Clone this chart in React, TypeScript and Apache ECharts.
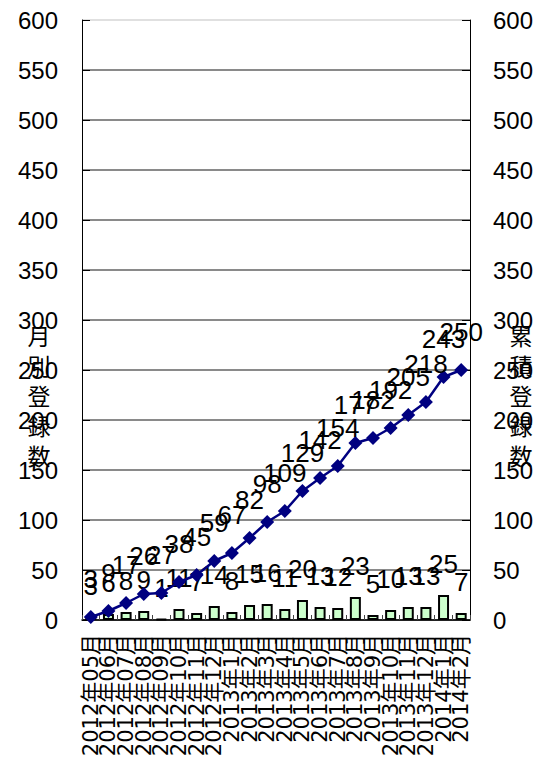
import React, { useEffect, useRef } from "react";
import * as echarts from "echarts";

const categories = [
  "2012年05月", "2012年06月", "2012年07月", "2012年08月", "2012年09月", "2012年10月", "2012年11月", "2012年12月",
  "2013年1月", "2013年2月", "2013年3月", "2013年4月", "2013年5月", "2013年6月", "2013年7月", "2013年8月", "2013年9月",
  "2013年10月", "2013年11月", "2013年12月", "2014年1月", "2014年2月",
];
const monthly = [3, 6, 8, 9, 1, 11, 7, 14, 8, 15, 16, 11, 20, 13, 12, 23, 5, 10, 13, 13, 25, 7];
const cumulative = [3, 9, 17, 26, 27, 38, 45, 59, 67, 82, 98, 109, 129, 142, 154, 177, 182, 192, 205, 218, 243, 250];
const leftTitle = "月別登録数";
const rightTitle = "累積登録数";

export default function App() {
  const ref = useRef<HTMLDivElement>(null);
  useEffect(() => {
    if (!ref.current) return;
    const chart = echarts.init(ref.current, null, { renderer: "svg" });
    const gridColors = Array.from({ length: 13 }, (_, i) => (i === 12 ? "#e0e0e0" : "#8a8a8a"));
    const tickFont = { fontSize: 24, fontFamily: "'Liberation Sans', Arial, sans-serif", color: "#000" };
    const labelFont = { fontSize: 26, fontFamily: "'Liberation Sans', Arial, sans-serif", color: "#000" };
    chart.setOption({
      animation: false,
      backgroundColor: "#fff",
      grid: { left: 82, right: 76, top: 20, bottom: 151 },
      xAxis: {
        type: "category",
        data: categories,
        boundaryGap: true,
        axisLine: { lineStyle: { color: "#000", width: 1.5 } },
        axisTick: { show: true, inside: true, length: 5, interval: 0, lineStyle: { color: "#444" } },
        axisLabel: {
          interval: 0,
          rotate: 90,
          margin: 14,
          fontSize: 21,
          fontFamily: "'DejaVu Sans', 'Noto Sans CJK JP', sans-serif",
          color: "#000",
        },
      },
      yAxis: [
        {
          type: "value",
          min: 0,
          max: 600,
          interval: 50,
          axisLine: { show: true, lineStyle: { color: "#000", width: 1 } },
          axisTick: { show: true, inside: true, length: 8, lineStyle: { color: "#000" } },
          axisLabel: { margin: 24, ...tickFont },
          splitLine: { show: true, lineStyle: { color: gridColors, width: 2 } },
        },
        {
          type: "value",
          min: 0,
          max: 600,
          interval: 50,
          position: "right",
          axisLine: { show: true, lineStyle: { color: "#000", width: 1 } },
          axisTick: { show: true, inside: true, length: 8, lineStyle: { color: "#000" } },
          axisLabel: { margin: 23, ...tickFont },
          splitLine: { show: false },
        },
      ],
      series: [
        {
          type: "bar",
          yAxisIndex: 0,
          data: monthly,
          barWidth: 11,
          itemStyle: { color: "#ccffcc", borderColor: "#000", borderWidth: 2 },
          label: { show: true, position: "top", distance: 18, ...labelFont },
          z: 2,
        },
        {
          type: "line",
          yAxisIndex: 1,
          data: cumulative,
          symbol: "diamond",
          symbolSize: 14,
          lineStyle: { color: "#000080", width: 2.5 },
          itemStyle: { color: "#000080" },
          label: { show: true, position: "top", distance: 18, ...labelFont },
          z: 3,
        },
      ],
      graphic: [
        {
          type: "text",
          x: 39,
          y: 395,
          style: {
            text: leftTitle.split("").join("\n"),
            fontSize: 23,
            lineHeight: 30,
            fontFamily: "'Noto Sans CJK JP', sans-serif",
            fill: "#000",
            align: "center",
            verticalAlign: "middle",
          },
        },
        {
          type: "text",
          x: 521,
          y: 395,
          style: {
            text: rightTitle.split("").join("\n"),
            fontSize: 23,
            lineHeight: 30,
            fontFamily: "'Noto Sans CJK JP', sans-serif",
            fill: "#000",
            align: "center",
            verticalAlign: "middle",
          },
        },
      ],
    });
    return () => chart.dispose();
  }, []);
  return <div ref={ref} style={{ width: 546, height: 771, position: "absolute", left: 0, top: 0 }} />;
}
